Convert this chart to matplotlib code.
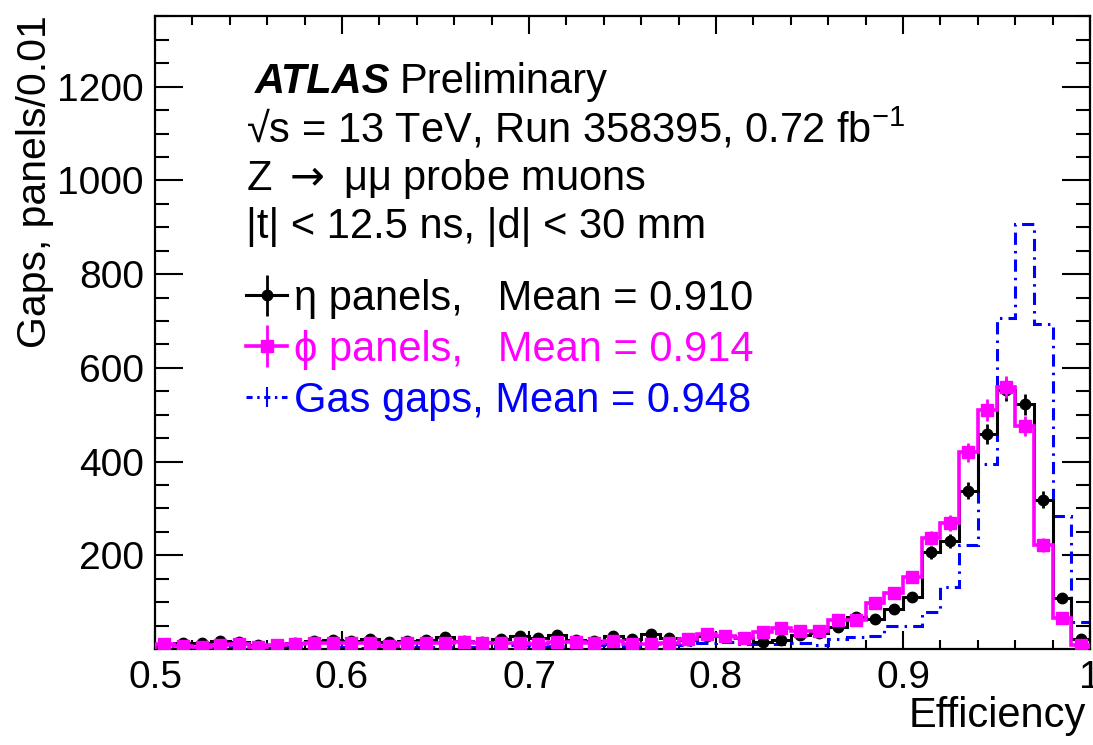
import numpy as np
import matplotlib
matplotlib.use("Agg")
import matplotlib.pyplot as plt
from matplotlib.lines import Line2D
from matplotlib.legend_handler import HandlerTuple
from matplotlib.ticker import MultipleLocator

plt.rcParams['font.family'] = ['Liberation Sans', 'DejaVu Sans']
plt.rcParams['mathtext.fontset'] = 'custom'
plt.rcParams['mathtext.rm'] = 'Liberation Sans'
plt.rcParams['mathtext.it'] = 'Liberation Sans:italic'
plt.rcParams['mathtext.sf'] = 'DejaVu Sans'

# histogram binning: 0.5 -> 1.0 in steps of 0.01
bin_lo = 0.5
bin_hi = 1.0
n_bins = 50

# eta panels (black points)
eta_counts = [10, 12, 12, 17, 16, 8, 2, 12, 18, 20,
              18, 22, 16, 18, 19, 26, 18, 16, 21, 28,
              24, 29, 20, 18, 27, 22, 33, 24, 20, 28,
              28, 24, 16, 19, 30, 34, 46, 69, 63, 85,
              110, 206, 231, 338, 459, 552, 522, 319, 108, 21]

# phi panels (magenta points)
phi_counts = [10, 6, 4, 8, 10, 5, 9, 10, 12, 13,
              13, 12, 7, 12, 13, 12, 15, 12, 13, 12,
              11, 15, 16, 12, 17, 11, 10, 12, 22, 31,
              28, 23, 36, 44, 39, 38, 61, 61, 98, 119,
              153, 237, 269, 420, 510, 560, 476, 222, 66, 9]

# gas gaps (blue dash-dot)
gas_counts = [4, 3, 4, 3, 5, 3, 4, 5, 4, 5,
              4, 3, 4, 5, 4, 4, 5, 5, 6, 8,
              5, 6, 7, 9, 10, 7, 8, 10, 8, 12,
              14, 10, 10, 10, 12, 9, 22, 26, 28, 49,
              50, 80, 133, 222, 394, 707, 907, 694, 283, 58]

labels = ["η panels,   Mean = 0.910",
          "ϕ panels,   Mean = 0.914",
          "Gas gaps, Mean = 0.948"]

edges = np.linspace(bin_lo, bin_hi, n_bins + 1)
centers = 0.5 * (edges[:-1] + edges[1:])
eta = np.array(eta_counts, dtype=float)
phi = np.array(phi_counts, dtype=float)
gas = np.array(gas_counts, dtype=float)

MAG = '#ff00ff'
BLUE = '#0000ff'

fig = plt.figure(figsize=(10.93, 7.45), dpi=100)
ax = fig.add_axes([155/1093, 1 - 649/745, 935/1093, 633/745])

# gas gaps outline
ax.stairs(gas, edges, color=BLUE, lw=2.2, ls=(0, (4.0, 2.0, 0.8, 2.0)), zorder=2)

# eta panels
ax.stairs(eta, edges, color='k', lw=2.2, zorder=3)
eb_eta = ax.errorbar(centers, eta, yerr=np.sqrt(eta), fmt='o', color='k',
                     ms=7.5, elinewidth=2.0, capsize=0, zorder=4)

# phi panels
ax.stairs(phi, edges, color=MAG, lw=2.6, zorder=5)
eb_phi = ax.errorbar(centers, phi, yerr=np.sqrt(phi), fmt='s', color=MAG,
                     ms=8.5, elinewidth=2.0, capsize=0, zorder=6)

ax.set_xlim(bin_lo, bin_hi)
ax.set_ylim(0, 1351)

ax.xaxis.set_minor_locator(MultipleLocator(0.02))
ax.set_yticks([200, 400, 600, 800, 1000, 1200])
ax.yaxis.set_minor_locator(MultipleLocator(50))
ax.set_xticks([0.5, 0.6, 0.7, 0.8, 0.9, 1.0])
ax.set_xticklabels(['0.5', '0.6', '0.7', '0.8', '0.9', '1'])

ax.tick_params(which='both', direction='in', top=True, right=True,
               labelsize=28, width=1.5)
ax.tick_params(axis='x', which='major', length=13, pad=8)
ax.tick_params(axis='x', which='minor', length=6.5)
ax.tick_params(axis='y', which='major', length=20, pad=8)
ax.tick_params(axis='y', which='minor', length=10)
for sp in ax.spines.values():
    sp.set_linewidth(1.6)

fig.text(35/1093, 1 - 15/745, 'Gaps, panels/0.01', rotation=90,
         ha='center', va='top', fontsize=29.5)
fig.text(1086/1093, 1 - 716/745, 'Efficiency', ha='right', va='center',
         fontsize=30)

# annotation block
tfs = 30
atl = ax.text(0.107, 1 - (93 - 16)/633, 'ATLAS', transform=ax.transAxes,
              fontsize=tfs, fontweight='bold', fontstyle='italic', va='baseline')
ax.annotate('Preliminary', xy=(1, 0), xycoords=atl, xytext=(9, 0),
            textcoords='offset pixels', fontsize=tfs, va='bottom')
ax.text(0.097, 1 - (142 - 16)/633,
        '√s = 13 TeV, Run 358395, 0.72 fb$^{\\mathrm{-1}}$',
        transform=ax.transAxes, fontsize=tfs, va='baseline')
ax.text(0.097, 1 - (190 - 16)/633, r'Z $\mathsf{\rightarrow}$ μμ probe muons',
        transform=ax.transAxes, fontsize=tfs, va='baseline')
ax.text(0.097, 1 - (238 - 16)/633, '|t| < 12.5 ns, |d| < 30 mm',
        transform=ax.transAxes, fontsize=tfs, va='baseline')

# legend
h_eta = (Line2D([], [], color='k', lw=2.2), eb_eta)
h_phi = (Line2D([], [], color=MAG, lw=2.6), eb_phi)
h_gas = Line2D([], [], color=BLUE, lw=2.2, ls=(0, (2.0, 1.5, 0.8, 1.5)),
               marker='|', ms=14, mew=1.5)
leg = ax.legend([h_eta, h_phi, h_gas], labels,
                handler_map={tuple: HandlerTuple(ndivide=1)},
                loc='upper left', bbox_to_anchor=(0.097, 1 - (279 - 16)/633),
                frameon=False, fontsize=tfs, handlelength=1.0,
                handletextpad=0.15, labelspacing=0.26, borderpad=0,
                borderaxespad=0)
for txt, c in zip(leg.get_texts(), ['k', MAG, BLUE]):
    txt.set_color(c)

fig.savefig('out.png', dpi=100)
